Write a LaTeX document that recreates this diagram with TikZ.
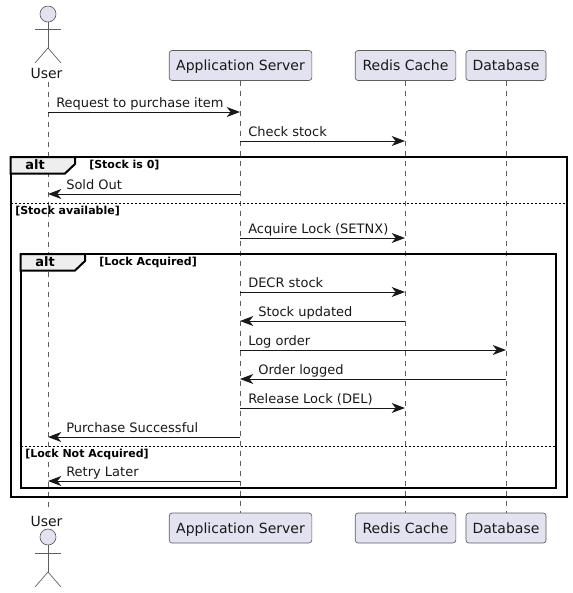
\documentclass[tikz,border=0pt]{standalone}
\usepackage{fontspec}
\setmainfont{DejaVu Sans}
\usepackage{xcolor}
\usetikzlibrary{arrows.meta, positioning, calc}
\definecolor{partfill}{HTML}{E2E2F0}
\definecolor{inkdark}{HTML}{181818}
\definecolor{tabfill}{HTML}{EEEEEE}

\begin{document}
\begin{tikzpicture}[x=0.75pt, y=-0.75pt, font=\fontsize{9.75pt}{11pt}\selectfont]
    \tikzstyle{part} = [rectangle, rounded corners=2.2pt, draw=inkdark!70, line width=0.5pt, fill=partfill, minimum height=22.5pt, inner xsep=5pt, inner ysep=0pt, text=inkdark, text depth=0pt, font=\fontsize{10.5pt}{12pt}\selectfont]
    \tikzstyle{actorline} = [draw=inkdark!70, line width=0.5pt]
    \tikzstyle{actorname} = [text=inkdark, inner sep=0pt, font=\fontsize{10.5pt}{12pt}\selectfont]
    \tikzstyle{life} = [draw=inkdark!70, line width=0.5pt, dash pattern=on 3.75pt off 3.75pt]
    \tikzstyle{msg} = [draw=inkdark, line width=0.75pt, -{Stealth[length=10pt,width=7.5pt,inset=3pt]}]
    \tikzstyle{msgtext} = [anchor=base west, inner sep=0pt, text=inkdark]
    \tikzstyle{frameline} = [draw=black, line width=1.5pt]
    \tikzstyle{divider} = [draw=black, line width=0.75pt, dash pattern=on 1.5pt off 1.5pt]
    \tikzstyle{guard} = [anchor=base west, inner sep=0pt, font=\fontsize{8.25pt}{10pt}\selectfont\bfseries]
    \tikzstyle{tabname} = [inner sep=0pt, font=\fontsize{9.75pt}{11pt}\selectfont\bfseries]

    % lifelines first, everything else sits on top
    \coordinate (userTop) at (48,82);
    \coordinate (userBot) at (48,511);
    \node (app) [part, minimum width=107pt] at (240.5,65.5) {Application Server};
    \node (redis) [part, minimum width=75.5pt] at (405.5,65.5) {Redis Cache};
    \node (db) [part, minimum width=59.5pt] at (506,65.5) {Database};
    \node (appB) [part, minimum width=107pt] at (240.5,528) {Application Server};
    \node (redisB) [part, minimum width=75.5pt] at (405.5,528) {Redis Cache};
    \node (dbB) [part, minimum width=59.5pt] at (506,528) {Database};

    \draw [life] (userTop) -- (userBot);
    \draw [life] (app) -- (appB);
    \draw [life] (redis) -- (redisB);
    \draw [life] (db) -- (dbB);

    % actors
    \node (userHead) [circle, draw=inkdark!70, line width=0.5pt, fill=partfill, minimum size=12pt, inner sep=0pt] at (48,14) {};
    \node (userName) [actorname] at (46.5,73) {User};
    \coordinate (userHip) at (48,48);
    \coordinate (userArmL) at (35,29);
    \coordinate (userArmR) at (61,29);
    \coordinate (userFootL) at (35,63);
    \coordinate (userFootR) at (61,63);
    \draw [actorline] (userHead) -- (userHip);
    \draw [actorline] (userArmL) -- (userArmR);
    \draw [actorline] (userFootL) -- (userHip) -- (userFootR);

    \node (userHeadB) [circle, draw=inkdark!70, line width=0.5pt, fill=partfill, minimum size=12pt, inner sep=0pt] at (48,537) {};
    \node (userNameB) [actorname] at (46.5,521) {User};
    \coordinate (userHipB) at (48,572);
    \coordinate (userArmLB) at (35,553);
    \coordinate (userArmRB) at (61,553);
    \coordinate (userFootLB) at (35,587);
    \coordinate (userFootRB) at (61,587);
    \draw [actorline] (userHeadB) -- (userHipB);
    \draw [actorline] (userArmLB) -- (userArmRB);
    \draw [actorline] (userFootLB) -- (userHipB) -- (userFootRB);

    % frames
    \coordinate (outerA) at (10.5,157);
    \coordinate (outerB) at (567,497);
    \coordinate (innerA) at (20.5,254);
    \coordinate (innerB) at (556,488);
    \draw [frameline] (outerA) rectangle (outerB);
    \draw [frameline] (innerA) rectangle (innerB);
    \draw [frameline, fill=tabfill] (outerA) -- (75,157) -- (75,164) -- (65,173.5) -- (10.5,173.5) -- cycle;
    \draw [frameline, fill=tabfill] (innerA) -- (85,254) -- (85,261) -- (75,270.5) -- (20.5,270.5) -- cycle;
    \node (outerTab) [tabname] at (35,165) {alt};
    \node (innerTab) [tabname] at (45,262) {alt};
    \node (guardA) [guard] at (89,168) {[Stock is 0]};
    \node (guardB) [guard] at (99,265) {[Lock Acquired]};
    \coordinate (divA) at (10.5,203);
    \coordinate (divB) at (567,203);
    \coordinate (divC) at (20.5,446);
    \coordinate (divD) at (556,446);
    \draw [divider] (divA) -- (divB);
    \draw [divider] (divC) -- (divD);
    \node (guardC) [guard] at (15,214) {[Stock available]};
    \node (guardD) [guard] at (25,457) {[Lock Not Acquired]};

    % one row of anchors per message
    \foreach \n/\yy in {a/112, b/141, c/194, d/238, e/292, f/321, g/350, h/379, i/408, j/437, k/481} {
        \coordinate (\n U) at (48,\yy);
        \coordinate (\n A) at (240,\yy);
        \coordinate (\n R) at (405,\yy);
        \coordinate (\n D) at (506,\yy);
    }

    \draw [msg] (aU) -- (aA);
    \draw [msg] (bA) -- (bR);
    \draw [msg] (cA) -- (cU);
    \draw [msg] (dA) -- (dR);
    \draw [msg] (eA) -- (eR);
    \draw [msg] (fR) -- (fA);
    \draw [msg] (gA) -- (gD);
    \draw [msg] (hD) -- (hA);
    \draw [msg] (iA) -- (iR);
    \draw [msg] (jA) -- (jU);
    \draw [msg] (kA) -- (kU);

    \node (aText) [msgtext] at (56,107.5) {Request to purchase item};
    \node (bText) [msgtext] at (248,136.5) {Check stock};
    \node (cText) [msgtext] at (66,189.5) {Sold Out};
    \node (dText) [msgtext] at (248,233.5) {Acquire Lock (SETNX)};
    \node (eText) [msgtext] at (248,287.5) {DECR stock};
    \node (fText) [msgtext] at (258,316.5) {Stock updated};
    \node (gText) [msgtext] at (248,345.5) {Log order};
    \node (hText) [msgtext] at (258,374.5) {Order logged};
    \node (iText) [msgtext] at (248,403.5) {Release Lock (DEL)};
    \node (jText) [msgtext] at (66,432.5) {Purchase Successful};
    \node (kText) [msgtext] at (66,476.5) {Retry Later};

    \useasboundingbox (0,0) rectangle (572,593);
\end{tikzpicture}
\end{document}
